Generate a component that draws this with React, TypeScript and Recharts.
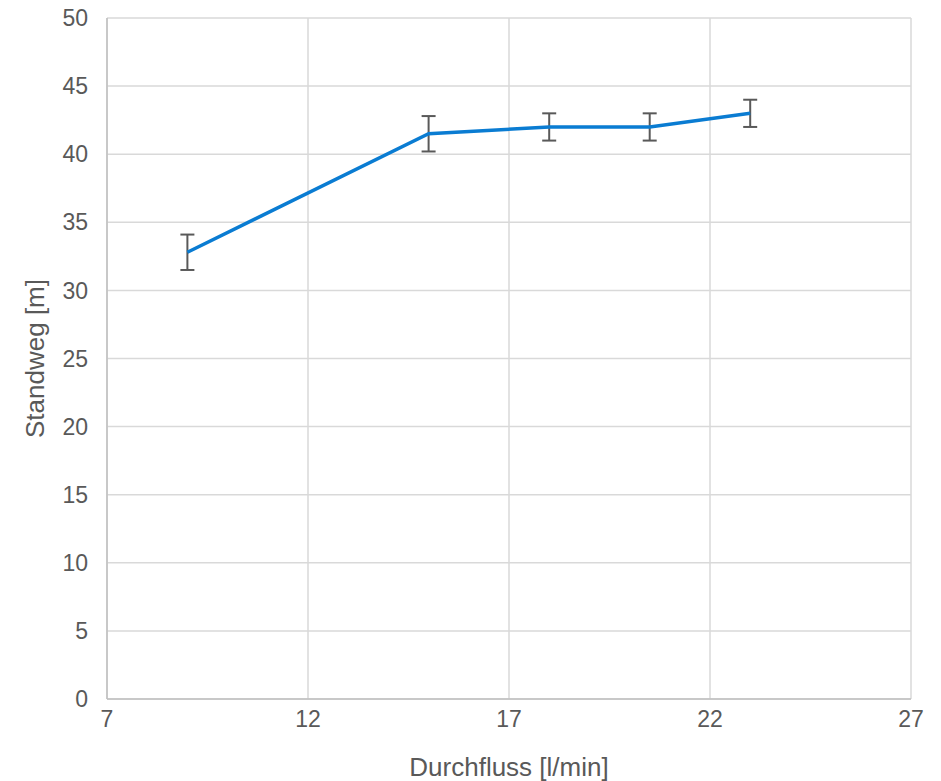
import React from 'react';
import { LineChart, Line, XAxis, YAxis, CartesianGrid, ErrorBar, Label } from 'recharts';

const flow = [9, 15, 18, 20.5, 23];
const distance = [32.8, 41.5, 42, 42, 43];
const errors = [1.3, 1.3, 1, 1, 1];
const xTicks = [7, 12, 17, 22, 27];
const yTicks = [0, 5, 10, 15, 20, 25, 30, 35, 40, 45, 50];

const data = flow.map((f, i) => ({ flow: f, distance: distance[i], err: errors[i] }));

const textColor = '#595959';
const font = 'Liberation Sans, Arial, sans-serif';

export default function App() {
  return (
    <div style={{ position: 'absolute', left: 0, top: 0, background: '#fff' }}>
      <LineChart width={941} height={781} data={data} margin={{ top: 18, right: 30, left: 0, bottom: 0 }}>
        <CartesianGrid stroke="#d9d9d9" strokeWidth={1.5} />
        <XAxis
          dataKey="flow"
          type="number"
          domain={[7, 27]}
          ticks={xTicks}
          height={82}
          tickSize={0}
          tickMargin={12}
          axisLine={{ stroke: '#bfbfbf', strokeWidth: 1.5 }}
          tick={{ fill: textColor, fontSize: 23, fontFamily: font }}
        >
          <Label value="Durchfluss [l/min]" position="insideBottom" offset={5} style={{ fill: textColor, fontSize: 26, fontFamily: font }} />
        </XAxis>
        <YAxis
          type="number"
          domain={[0, 50]}
          ticks={yTicks}
          width={107}
          tickSize={0}
          tickMargin={19}
          axisLine={{ stroke: '#bfbfbf', strokeWidth: 1.5 }}
          tick={{ fill: textColor, fontSize: 23, fontFamily: font }}
        >
          <Label value="Standweg [m]" angle={-90} position="insideLeft" offset={35} style={{ fill: textColor, fontSize: 26, fontFamily: font, textAnchor: 'middle' }} />
        </YAxis>
        <Line
          type="linear"
          dataKey="distance"
          stroke="#0A7CD2"
          strokeWidth={3.5}
          dot={false}
          activeDot={false}
          isAnimationActive={false}
        >
          <ErrorBar dataKey="err" direction="y" width={7} stroke="#595959" strokeWidth={2} isAnimationActive={false} />
        </Line>
      </LineChart>
    </div>
  );
}
